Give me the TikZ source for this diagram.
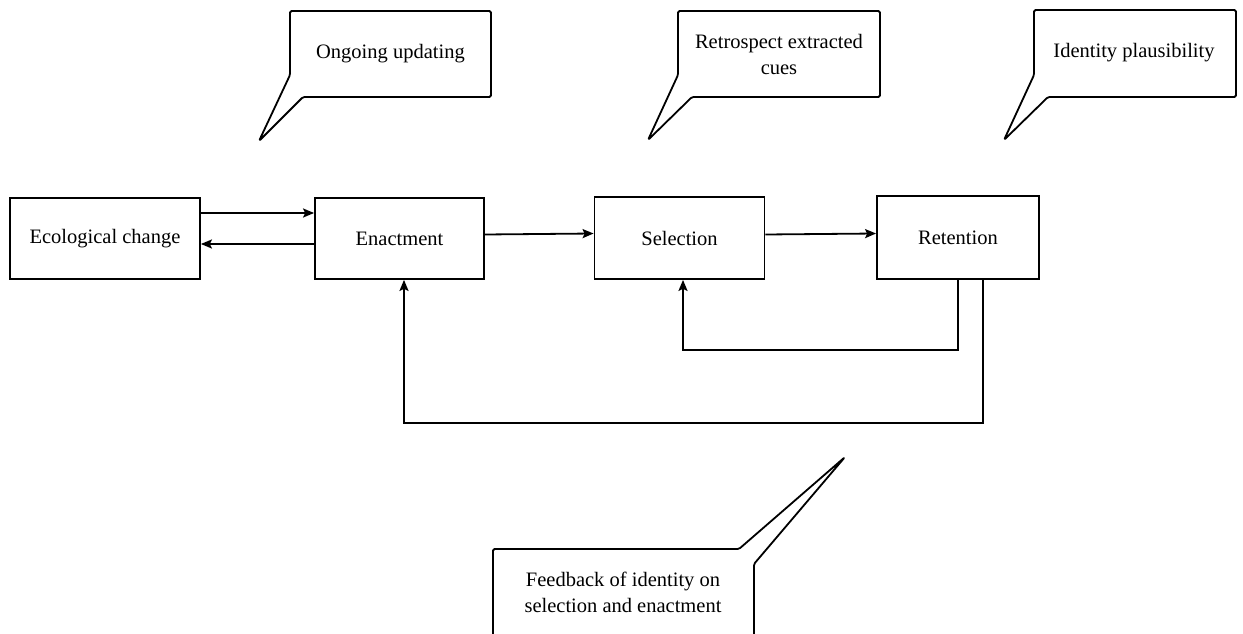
\documentclass[tikz,border=0pt]{standalone}
\usepackage{fontspec}
\setmainfont{Liberation Serif}
\usetikzlibrary{arrows.meta}
\begin{document}
\begin{tikzpicture}[x=1pt,y=-1pt,
  box/.style={draw,line width=1.8pt,inner sep=0pt,font=\fontsize{20.5}{24}\selectfont},
  lbl/.style={inner sep=0pt,align=center,font=\fontsize{20.5}{26}\selectfont},
  callout/.style={draw,line width=1.8pt,rounded corners=1.5pt,line join=round},
  link/.style={line width=1.8pt,-{Stealth[length=11pt,width=9pt,inset=2pt]}},
  wire/.style={line width=1.8pt}]
\useasboundingbox (0,0) rectangle (1243,634);
\clip (0,0) rectangle (1243,634);
% main boxes
\node[box,minimum width=190pt,minimum height=81pt] (eco) at (105,238.5) {Ecological change};
\node[box,minimum width=169pt,minimum height=81pt] (en) at (399.5,238.5) {Enactment};
\node[box,minimum width=170pt,minimum height=82pt] (se) at (679.5,238) {Selection};
\node[box,minimum width=162pt,minimum height=83pt] (re) at (958,237.5) {Retention};
% horizontal links
\draw[link] (eco.east |- 0,213) -- (en.west |- 0,213);
\draw[link] (en.west |- 0,244) -- (eco.east |- 0,244);
\draw[link] (en.east |- 0,234.5) -- (se.west |- 0,233.5);
\draw[link] (se.east |- 0,234.5) -- (re.west |- 0,233.5);
% feedback loops
\coordinate (i1) at (958,350);
\coordinate (i2) at (683,350);
\draw[link] (re.south -| 958,0) -- (i1) -- (i2) -- (se.south -| 683,0);
\coordinate (o1) at (983,423);
\coordinate (o2) at (404,423);
\draw[link] (re.south -| 983,0) -- (o1) -- (o2) -- (en.south -| 404,0);
% callouts
\node[lbl] (c1) at (390.5,54) {Ongoing updating};
\coordinate (t1) at (259,141);
\draw[callout] (290,11) -- (491,11) -- (491,97) -- (303,97) -- (t1) -- (290,75) -- cycle;
\node[lbl] (c2) at (779,54) {Retrospect extracted\\cues};
\coordinate (t2) at (648,140);
\draw[callout] (678,11) -- (880,11) -- (880,97) -- (692,97) -- (t2) -- (678,75) -- cycle;
\node[lbl] (c3) at (1134,53) {Identity plausibility};
\coordinate (t3) at (1004,140);
\draw[callout] (1034,10) -- (1236,10) -- (1236,97) -- (1048,97) -- (t3) -- (1034,75) -- cycle;
\node[lbl] (c4) at (623,592) {Feedback of identity on\\selection and enactment};
\coordinate (t4) at (845,457);
\draw[callout] (493,660) -- (493,549) -- (739,549) -- (t4) -- (754,564) -- (754,660);
\end{tikzpicture}
\end{document}
